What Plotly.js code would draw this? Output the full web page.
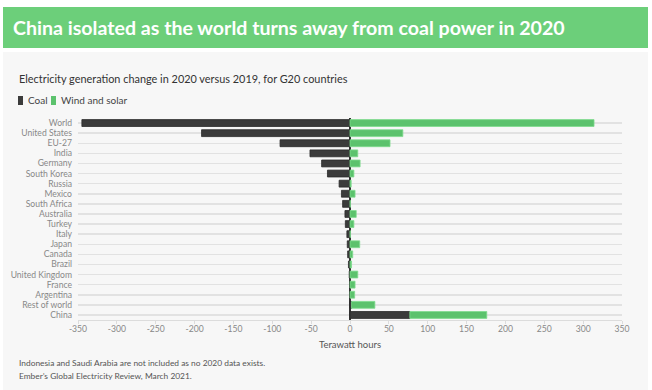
<!DOCTYPE html>
<html>
<head>
<meta charset="utf-8">
<script src="https://cdn.plot.ly/plotly-3.0.1.min.js"></script>
<style>
html,body{margin:0;padding:0;background:#fff;}
#chart{width:652px;height:390px;}
</style>
</head>
<body>
<div id="chart"></div>
<script>
// ---- data ----
const countries = ["World","United States","EU-27","India","Germany","South Korea","Russia","Mexico","South Africa","Australia","Turkey","Italy","Japan","Canada","Brazil","United Kingdom","France","Argentina","Rest of world","China"];
const coal = [-345,-191,-90,-51.5,-36.5,-29,-14,-11,-9.5,-6.5,-6,-4,-3.5,-3,-2,-1,-0.5,-0.3,2,77];
const windSolar = [314,68,51.5,10,13,5,1.5,6.5,0.5,8,5,0.5,12.5,3.5,2,10,6.5,6,30,99];
const xTicks = [-350,-300,-250,-200,-150,-100,-50,0,50,100,150,200,250,300,350];
const coalName = "Coal";
const windName = "Wind and solar";
const coalColor = "#3b3b3b";
const windColor = "#5cc26d";

const title = "China isolated as the world turns away from coal power in 2020";
const subtitle = "Electricity generation change in 2020 versus 2019, for G20 countries";
const xTitle = "Terawatt hours";
const notes = ["Indonesia and Saudi Arabia are not included as no 2020 data exists.","Ember\u2019s Global Electricity Review, March 2021."];

// ---- layout geometry (pixels -> paper) ----
const W = 652, H = 390, L = 78, R = 30, T = 118, B = 70;
const pw = W - L - R, ph = H - T - B;
const xp = px => (px - L) / pw;
const yp = py => (H - B - py) / ph;

const FONT = "Lato, 'Open Sans', sans-serif";

const traces = [
  {type:"bar", orientation:"h", name:coalName, y:countries, x:coal, width:0.68,
   marker:{color:coalColor, line:{color:"#2a2a2a", width:0.8}}, hoverinfo:"x+y"},
  {type:"bar", orientation:"h", name:windName, y:countries, x:windSolar, width:0.68,
   marker:{color:windColor, line:{color:"#7fdc8e", width:0.8}}, hoverinfo:"x+y"}
];

const shapes = [
  // panel background
  {type:"rect", xref:"paper", yref:"paper", x0:xp(3), x1:xp(648), y0:yp(390), y1:yp(52), fillcolor:"#f7f7f7", line:{width:0}, layer:"below"},
  // green banner
  {type:"rect", xref:"paper", yref:"paper", x0:xp(3), x1:xp(648), y0:yp(48), y1:yp(7), fillcolor:"#6ccf7a", line:{width:0}, layer:"below"},
  // legend swatches
  {type:"rect", xref:"paper", yref:"paper", x0:xp(18), x1:xp(23), y0:yp(105), y1:yp(96), fillcolor:coalColor, line:{width:0}},
  {type:"rect", xref:"paper", yref:"paper", x0:xp(51), x1:xp(56), y0:yp(105), y1:yp(96), fillcolor:windColor, line:{width:0}}
];

const annotations = [
  {text:"<b>"+title+"</b>", xref:"paper", yref:"paper", x:xp(11), y:yp(27.5), xanchor:"left", yanchor:"middle", showarrow:false, font:{family:FONT, size:19.6, color:"#ffffff"}},
  {text:subtitle, xref:"paper", yref:"paper", x:xp(17), y:yp(78), xanchor:"left", yanchor:"middle", showarrow:false, font:{family:FONT, size:10.9, color:"#333"}},
  {text:coalName, xref:"paper", yref:"paper", x:xp(26), y:yp(100.5), xanchor:"left", yanchor:"middle", showarrow:false, font:{family:FONT, size:10, color:"#444"}},
  {text:windName, xref:"paper", yref:"paper", x:xp(59), y:yp(100.5), xanchor:"left", yanchor:"middle", showarrow:false, font:{family:FONT, size:10, color:"#444"}},
  {text:notes[0], xref:"paper", yref:"paper", x:xp(17), y:yp(363), xanchor:"left", yanchor:"middle", showarrow:false, font:{family:FONT, size:8.4, color:"#555"}},
  {text:notes[1], xref:"paper", yref:"paper", x:xp(17), y:yp(376), xanchor:"left", yanchor:"middle", showarrow:false, font:{family:FONT, size:8.4, color:"#555"}},
  {text:xTitle, xref:"paper", yref:"paper", x:xp(350), y:yp(344), xanchor:"center", yanchor:"middle", showarrow:false, font:{family:FONT, size:9.5, color:"#555"}}
];

const layout = {
  width:W, height:H,
  margin:{l:L, r:R, t:T, b:B, pad:0},
  paper_bgcolor:"#ffffff",
  plot_bgcolor:"rgba(0,0,0,0)",
  barmode:"relative",
  showlegend:false,
  font:{family:FONT, color:"#888"},
  xaxis:{range:[-350,350], tickvals:xTicks, ticktext:xTicks.map(String), ticks:"outside", ticklen:3, tickcolor:"#dcdcdc",
         ticklabelstandoff:-2,
         showline:true, linecolor:"#dcdcdc", linewidth:1, showgrid:false, zeroline:true, zerolinecolor:"#333", zerolinewidth:1.5,
         tickfont:{family:FONT, size:8.6, color:"#888"}, fixedrange:true},
  yaxis:{type:"category", autorange:"reversed", tickmode:"array", tickvals:countries, ticktext:countries,
         showgrid:true, gridcolor:"#e2e2e2", gridwidth:1.5, ticks:"", showline:false,
         ticklabelstandoff:5, tickfont:{family:FONT, size:8.6, color:"#888"}, zeroline:false, fixedrange:true},
  shapes:shapes,
  annotations:annotations
};

Plotly.newPlot("chart", traces, layout, {displayModeBar:false, staticPlot:true});
</script>
</body>
</html>
